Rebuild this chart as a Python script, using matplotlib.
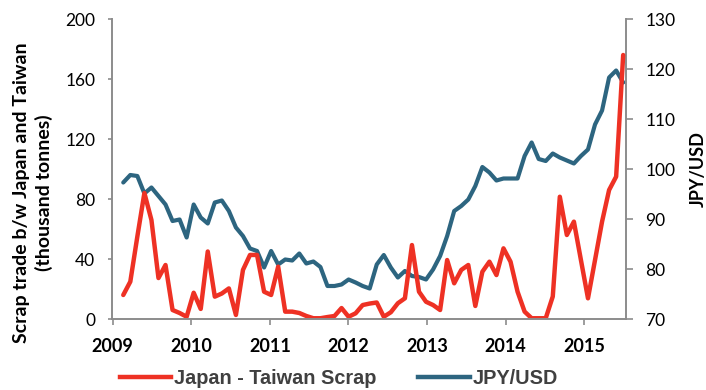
import numpy as np
import matplotlib
matplotlib.use("Agg")
import matplotlib.pyplot as plt
from matplotlib.lines import Line2D

# Monthly scrap trade between Japan and Taiwan (thousand tonnes)
scrap = [16, 24.9, 55, 84, 66, 27.3, 36, 6, 4, 1.5, 17.5, 6.7,
         45, 14.9, 17, 20.4, 2.7, 32.7, 42.7, 42.7, 18.2, 16, 34.9, 4.9,
         4.9, 4, 2, 0.5, 0.5, 1.3, 2, 7.3, 1.5, 3.8, 9.3, 10.3,
         11, 1.5, 4.5, 10.5, 13.8, 49.3, 18.2, 11.5, 9.3, 6, 39.3, 23.8,
         32.7, 36, 8.7, 31.5, 38.2, 29.3, 47.1, 38.2, 18.2, 4.9, 0.5, 0.5,
         0.5, 15, 81.5, 56, 64.9, 39.3, 13.8, 39.3, 64.9, 86, 94.9, 176]

# Monthly JPY/USD exchange rate
jpy_usd = [97.3, 98.8, 98.6, 95.1, 96.3, 94.6, 92.9, 89.6, 89.9, 86.3, 92.9, 90.3,
           89.1, 93.3, 93.7, 91.6, 88.3, 86.6, 84.1, 83.6, 80.3, 83.6, 80.9, 81.9,
           81.7, 83.1, 81.1, 81.5, 80.4, 76.6, 76.6, 76.9, 77.9, 77.3, 76.6, 76.1,
           80.9, 82.8, 80.3, 78.3, 79.6, 78.6, 78.4, 77.9, 79.9, 82.6, 86.6, 91.6,
           92.6, 93.9, 96.6, 100.4, 99.3, 97.7, 98.1, 98.1, 98.1, 102.6, 105.3, 102.0,
           101.6, 103.1, 102.3, 101.7, 101.1, 102.6, 103.9, 108.9, 111.7, 118.3, 119.7, 117.3]

year_labels = ["2009", "2010", "2011", "2012", "2013", "2014", "2015"]
left_ticks = [0, 40, 80, 120, 160, 200]
right_ticks = [70, 80, 90, 100, 110, 120, 130]

RED = "#EE3124"
BLUE = "#2D6580"
GREY = "#8C8C8C"

months = np.arange(len(scrap))

fig = plt.figure(figsize=(7.06, 3.9), dpi=100)
ax = fig.add_axes([112 / 706, 1 - 319 / 390, (626 - 112) / 706, 300 / 390])
ax2 = ax.twinx()

ax.plot(months, scrap, color=RED, lw=3.2, solid_joinstyle="round", solid_capstyle="round")
ax2.plot(months, jpy_usd, color=BLUE, lw=3.0, solid_joinstyle="round", solid_capstyle="round")

# scrap line drawn above the exchange-rate line
ax.set_zorder(ax2.get_zorder() + 1)
ax.patch.set_visible(False)

ax.set_xlim(-1.6, 71.4)
ax.set_ylim(0, 200)
ax2.set_ylim(70, 130)

year_pos = [-1.5 + 11.16 * k for k in range(len(year_labels))]
ax.set_xticks(year_pos)
ax.set_xticklabels(year_labels, fontfamily="Lato", fontweight="bold", fontsize=13)
ax.set_yticks(left_ticks)
ax.set_yticklabels([str(v) for v in left_ticks], fontfamily="Lato", fontsize=12.5)
ax2.set_yticks(right_ticks)
ax2.set_yticklabels([str(v) for v in right_ticks], fontfamily="Lato", fontsize=12.5)

for a in (ax, ax2):
    a.spines["top"].set_visible(False)
    for s in ("left", "right", "bottom"):
        a.spines[s].set_color(GREY)
        a.spines[s].set_linewidth(1.4)
ax.spines["right"].set_visible(False)
ax2.spines["left"].set_visible(False)
ax2.spines["bottom"].set_visible(False)

ax.tick_params(axis="x", direction="out", length=4, width=1.2, color=GREY, pad=10)
ax.tick_params(axis="y", direction="out", length=3, width=1.2, color=GREY, pad=9)
ax2.tick_params(axis="y", direction="out", length=5, width=1.2, color=GREY, pad=9)

ax.set_ylabel("Scrap trade b/w Japan and Taiwan\n(thousand tonnes)",
              fontfamily="Lato", fontweight="bold", fontsize=14, linespacing=1.3)
ax.yaxis.set_label_coords(-0.115, 0.42)
ax2.set_ylabel("JPY/USD", fontfamily="Lato", fontweight="bold", fontsize=13, labelpad=10)

handles = [Line2D([], [], color=RED, lw=3.2), Line2D([], [], color=BLUE, lw=3.2)]
fig.legend(handles, ["Japan - Taiwan Scrap", "JPY/USD"], loc="center",
           bbox_to_anchor=(339 / 706, 1 - 378 / 390), ncol=2, frameon=False,
           prop={"family": "Liberation Sans", "weight": "bold", "size": 14.3},
           labelcolor="#404040", handlelength=2.6, handletextpad=0.15,
           columnspacing=2.1, borderpad=0, borderaxespad=0)

fig.savefig("out.png", dpi=100)
